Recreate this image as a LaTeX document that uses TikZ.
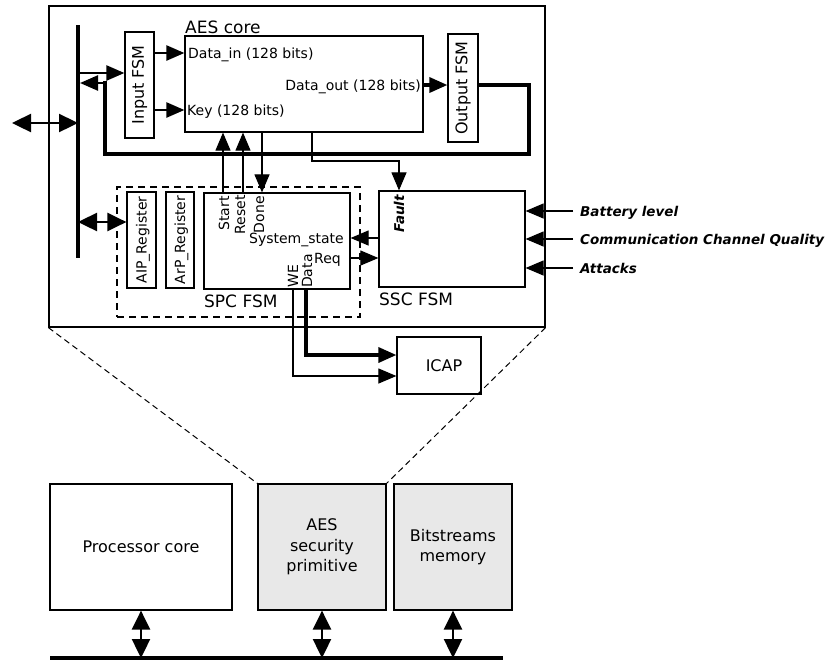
\documentclass[tikz,border=0pt]{standalone}
\usepackage{fontspec}
\setmainfont{DejaVu Sans}
\usetikzlibrary{arrows.meta}
\definecolor{boxgray}{RGB}{232,232,232}
\begin{document}
\begin{tikzpicture}[x=1pt,y=-1pt,
 box/.style={draw, line width=1.2pt, inner sep=0pt},
 lbl/.style={font=\fontsize{14}{16}\selectfont, inner sep=0pt, text height=10pt, text depth=0pt},
 big/.style={font=\fontsize{16}{20.5}\selectfont, inner sep=0pt, align=center},
 bigger/.style={font=\fontsize{17}{20}\selectfont, inner sep=0pt},
 bi/.style={font=\fontsize{13.5}{16}\selectfont\bfseries\itshape, inner sep=0pt, text height=10pt, text depth=0pt},
 thinline/.style={line width=1.1pt},
 medline/.style={line width=2.4pt},
 thickline/.style={line width=3.4pt},
 busline/.style={line width=3.6pt},
 arr/.style={-{Triangle[length=18pt,width=15pt]}},
 darr/.style={{Triangle[length=19pt,width=18pt]}-{Triangle[length=19pt,width=18pt]}},
 zoomdash/.style={line width=1pt, dash pattern=on 6pt off 4pt},
]
\useasboundingbox (0,0) rectangle (828,665);

% ---- boxes ----
\node[box, minimum width=496pt, minimum height=321pt] (outer) at (297,166.5) {};
\node[box, minimum width=29pt, minimum height=106pt] (infsm) at (139.5,85) {};
\node[big, rotate=90] at (infsm.center) {Input FSM};
\node[box, minimum width=238pt, minimum height=96pt] (aes) at (304,84) {};
\node[bigger, anchor=base west] (aeslbl) at (185,33) {AES core};
\node[box, minimum width=30pt, minimum height=108pt] (outfsm) at (463,88) {};
\node[big, rotate=90] at (outfsm.center) {Output FSM};

\node[draw, line width=1.4pt, dash pattern=on 7pt off 5pt, minimum width=243pt, minimum height=130pt, inner sep=0pt] (dbox) at (238.5,252) {};
\node[box, minimum width=29pt, minimum height=96pt] (aip) at (141.5,240) {};
\node[lbl, rotate=90] at (aip.center) {AIP\_Register};
\node[box, minimum width=28pt, minimum height=96pt] (arp) at (180,240) {};
\node[lbl, rotate=90] at (arp.center) {ArP\_Register};
\node[box, minimum width=146pt, minimum height=96pt] (spc) at (277,241) {};
\node[bigger, anchor=base west] (spclbl) at (204,307) {SPC FSM};
\node[box, minimum width=146pt, minimum height=96pt] (ssc) at (452,239) {};
\node[bigger, anchor=base west] (ssclbl) at (379,305) {SSC FSM};
\node[box, minimum width=84pt, minimum height=57pt] (icap) at (439,365.5) {};
\node[big] at ([xshift=5pt]icap.center) {ICAP};

\node[box, minimum width=182pt, minimum height=126pt] (proc) at (141,547) {};
\node[big] at (proc.center) {Processor core};
\node[box, fill=boxgray, minimum width=128pt, minimum height=126pt] (aesp) at (322,547) {};
\node[big] at (aesp.center) {AES\\security\\primitive};
\node[box, fill=boxgray, minimum width=118pt, minimum height=126pt] (bsm) at (453,547) {};
\node[big] at (bsm.center) {Bitstreams\\memory};

% ---- texts inside AES / SPC / SSC ----
\node[lbl, anchor=west] at (188,53) {Data\_in (128 bits)};
\node[lbl, anchor=west] at (187,110) {Key (128 bits)};
\node[lbl, anchor=east] at (421,85) {Data\_out (128 bits)};
\node[lbl, rotate=90, anchor=east] at (224,196) {Start};
\node[lbl, rotate=90, anchor=east] at (240,195) {Reset};
\node[lbl, rotate=90, anchor=east] at (259,196) {Done};
\node[lbl, anchor=east] at (344,238) {System\_state};
\node[lbl, anchor=east] at (341,258) {Req};
\node[lbl, rotate=90, anchor=west] at (293,288) {WE};
\node[lbl, rotate=90, anchor=west] at (307,288) {Data};
\node[bi, rotate=90, anchor=east] at (399,195) {Fault};

% ---- level coordinates ----
\coordinate (busT) at (78,25);
\coordinate (busB) at (78,258);
\coordinate (ext) at (12,123);
\coordinate (b123) at (78,123);
\coordinate (b73) at (78,73);
\coordinate (b83) at (80,83);
\coordinate (b222) at (78,222);
\coordinate (yDI) at (0,53);
\coordinate (yKey) at (0,110);
\coordinate (yDO) at (0,85);
\coordinate (lp1) at (529,85);
\coordinate (lp2) at (529,154);
\coordinate (lp3) at (105,154);
\coordinate (lp4) at (105,83);
\coordinate (xStart) at (223,0);
\coordinate (xReset) at (243,0);
\coordinate (xDone) at (262,0);
\coordinate (xF) at (312,0);
\coordinate (fk) at (399,161);
\coordinate (ySS) at (0,238);
\coordinate (yReq) at (0,258);
\coordinate (xWE) at (293,0);
\coordinate (xData) at (306,0);
\coordinate (yWE) at (0,376);
\coordinate (yDa) at (0,355);
\coordinate (bl) at (50,658);
\coordinate (br) at (503,658);

% ---- buses ----
\draw[busline] (busT) -- (busB);
\draw[line width=4pt] (bl) -- (br);

% ---- connectors ----
\draw[medline, darr] (ext) -- (b123);
\draw[medline, arr] (b73) -- (b73 -| infsm.west);
\draw[medline, arr] (infsm.east |- yDI) -- (aes.west |- yDI);
\draw[medline, arr] (infsm.east |- yKey) -- (aes.west |- yKey);
\draw[thickline, arr] (aes.east |- yDO) -- (outfsm.west |- yDO);
\draw[thickline] (outfsm.east |- lp1) -- (lp1) -- (lp2) -- (lp3) -- ([yshift=1.7pt]lp4);
\draw[medline, arr] (lp4) -- (b83);
\draw[medline, darr] (b222) -- (aip.west |- b222);

\draw[thinline, arr] (spc.north -| xStart) -- (aes.south -| xStart);
\draw[thinline, arr] (spc.north -| xReset) -- (aes.south -| xReset);
\draw[thinline, arr] (aes.south -| xDone) -- (spc.north -| xDone);
\draw[thinline, arr] (aes.south -| xF) |- (fk) -- (ssc.north -| fk);
\draw[thinline, arr] (ssc.west |- ySS) -- (spc.east |- ySS);
\draw[thinline, arr] (spc.east |- yReq) -- (ssc.west |- yReq);
\draw[thinline, arr] (spc.south -| xWE) |- (icap.west |- yWE);
\draw[thickline, arr] (spc.south -| xData) |- (icap.west |- yDa);

\node[bi, anchor=west] (lB) at (580,211) {Battery level};
\node[bi, anchor=west] (lC) at (580,239) {Communication Channel Quality};
\node[bi, anchor=west] (lA) at (580,268) {Attacks};
\draw[thinline, arr, shorten <=7pt] (lB.west) -- (ssc.east |- lB.west);
\draw[thinline, arr, shorten <=7pt] (lC.west) -- (ssc.east |- lC.west);
\draw[thinline, arr, shorten <=7pt] (lA.west) -- (ssc.east |- lA.west);

\draw[zoomdash] (outer.south west) -- (aesp.north west);
\draw[zoomdash] (outer.south east) -- (aesp.north east);

\draw[medline, darr] (proc.south) -- (proc.south |- bl);
\draw[medline, darr] (aesp.south) -- (aesp.south |- bl);
\draw[medline, darr] (bsm.south) -- (bsm.south |- bl);
\end{tikzpicture}
\end{document}
